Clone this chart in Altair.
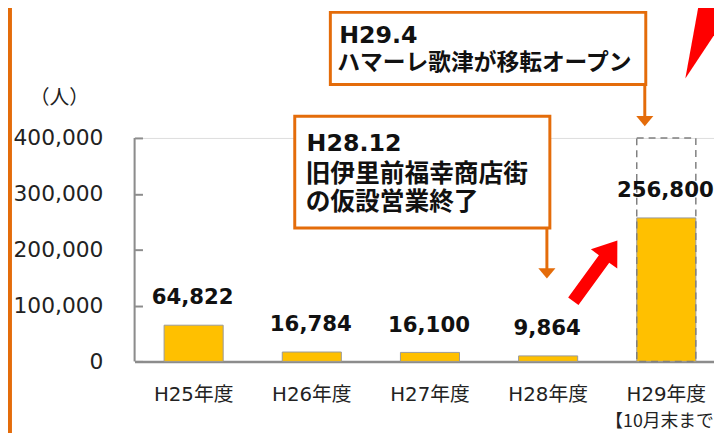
import altair as alt
import pandas as pd

# ---- data ----
categories = ["H25年度", "H26年度", "H27年度", "H28年度", "H29年度"]
visitors = [64822, 16784, 16100, 9864, 256800]
label_texts = ["64,822", "16,784", "16,100", "9,864", "256,800"]
outline_cats = ["H29年度"]
outline_values = [400000]
y_ticks = [0, 100000, 200000, 300000, 400000]

df = pd.DataFrame({"cat": categories, "v": visitors, "lab": label_texts})
df_out = pd.DataFrame({"cat": outline_cats, "v": outline_values})

ORANGE = "#E46C0A"
LAT = "DejaVu Sans"
MIX = "DejaVu Sans, Noto Sans CJK JP"
JP = "Noto Sans CJK JP"
GRAY = "#8c8c8c"

xscale = alt.Scale(domain=categories, range=[0, 597.5], paddingInner=0.5, paddingOuter=0.25)
yscale = alt.Scale(domain=[0, 400000], nice=False)

x_axis = alt.Axis(title=None, labelAngle=0, labelFont=MIX, labelFontSize=20,
                  labelColor="#222222", labelPadding=24, ticks=False,
                  domainColor=GRAY, domainWidth=2.5)
y_axis = alt.Axis(title=None, values=y_ticks, format=",d",
                  labelExpr="format(datum.value, ',d')",
                  labelFont=LAT, labelFontSize=22, labelColor="#222222",
                  labelPadding=32, offset=-8, ticks=True, tickSize=8, tickWidth=2,
                  tickColor=GRAY, grid=False, domain=False)

def X():
    return alt.X("cat:N", scale=xscale, sort=categories, axis=x_axis)

def Y():
    return alt.Y("v:Q", scale=yscale, axis=y_axis)

bars = alt.Chart(df).mark_bar(color="#FFC000", stroke="#9a9a9a", strokeWidth=1).encode(x=X(), y=Y())

outline = alt.Chart(df_out).mark_bar(fillOpacity=0, stroke="#808080", strokeWidth=1.5,
                                     strokeDash=[7, 5]).encode(x=X(), y=Y())

values = alt.Chart(df).mark_text(font=LAT, fontSize=21.5, fontWeight="bold", color="#111111",
                                 baseline="alphabetic", dy=-21, dx=-1).encode(
    x=X(), y=Y(), text="lab:N")

one = alt.Data(values=[{}])

# y-axis line
yline = alt.Chart(one).mark_rule(color=GRAY, strokeWidth=2).encode(
    x=alt.value(0), y=alt.value(0), y2=alt.value(226))

border = alt.Chart(one).mark_rule(color=ORANGE, strokeWidth=4).encode(
    x=alt.value(-126), y=alt.value(-140), y2=alt.value(300))

unit = alt.Chart(one).mark_text(text="（人）", font=JP, fontSize=20, color="#222222",
                                align="center", baseline="middle").encode(
    x=alt.value(-76), y=alt.value(-40))

# annotation box 1
box1 = alt.Chart(one).mark_rect(fill="white", stroke=ORANGE, strokeWidth=3).encode(
    x=alt.value(198), x2=alt.value(517), y=alt.value(-127), y2=alt.value(-54))
t1a = alt.Chart(one).mark_text(text="H29.4", font=MIX, fontSize=24, fontWeight="bold",
                               color="#111111", align="left", baseline="alphabetic").encode(
    x=alt.value(207), y=alt.value(-96))
t1b = alt.Chart(one).mark_text(text="ハマーレ歌津が移転オープン", font=MIX, fontSize=23,
                               fontWeight="bold", color="#111111", align="left",
                               baseline="alphabetic").encode(
    x=alt.value(205), y=alt.value(-69))
a1 = alt.Chart(one).mark_rule(color=ORANGE, strokeWidth=3).encode(
    x=alt.value(516), y=alt.value(-54), y2=alt.value(-20))
h1 = alt.Chart(one).mark_point(shape="M-1,-0.6L1,-0.6L0,0.6Z", filled=True, fill=ORANGE,
                               opacity=1, strokeWidth=0, size=300).encode(
    x=alt.value(516), y=alt.value(-17))

# annotation box 2
box2 = alt.Chart(one).mark_rect(fill="white", stroke=ORANGE, strokeWidth=3).encode(
    x=alt.value(162), x2=alt.value(420), y=alt.value(-22), y2=alt.value(91))
t2a = alt.Chart(one).mark_text(text="H28.12", font=MIX, fontSize=24, fontWeight="bold",
                               color="#111111", align="left", baseline="alphabetic").encode(
    x=alt.value(174), y=alt.value(13))
t2b = alt.Chart(one).mark_text(text="旧伊里前福幸商店街", font=MIX, fontSize=25, fontWeight="bold",
                               color="#111111", align="left", baseline="alphabetic").encode(
    x=alt.value(173), y=alt.value(45))
t2c = alt.Chart(one).mark_text(text="の仮設営業終了", font=MIX, fontSize=25, fontWeight="bold",
                               color="#111111", align="left", baseline="alphabetic").encode(
    x=alt.value(173), y=alt.value(73))
a2 = alt.Chart(one).mark_rule(color=ORANGE, strokeWidth=3).encode(
    x=alt.value(417), y=alt.value(91), y2=alt.value(134))
h2 = alt.Chart(one).mark_point(shape="M-1,-0.6L1,-0.6L0,0.6Z", filled=True, fill=ORANGE,
                               opacity=1, strokeWidth=0, size=300).encode(
    x=alt.value(417), y=alt.value(137))

# red arrows
ARROW = "M0,-1L0.435,-0.396L0.17,-0.396L0.17,1L-0.17,1L-0.17,-0.396L-0.435,-0.396Z"
red1 = alt.Chart(one).mark_point(shape=ARROW, filled=True, fill="#FF0000", opacity=1,
                                 strokeWidth=0, size=5746, angle=36).encode(
    x=alt.value(466), y=alt.value(134.5))
BIG = "M-0.46,0.98L-0.108,-0.96L0.48,-0.96L0.48,-0.44Z"
red2 = alt.Chart(one).mark_point(shape=BIG, filled=True, fill="#FF0000", opacity=1,
                                 strokeWidth=0, size=10000).encode(
    x=alt.value(580), y=alt.value(-109))

note = alt.Chart(one).mark_text(text="【10月末まで】", font=JP, fontSize=18, color="#222222",
                                align="left", baseline="alphabetic").encode(
    x=alt.value(476), y=alt.value(292))

chart = alt.layer(
    border, unit, bars, outline, values, yline,
    box1, t1a, t1b, a1, h1, box2, t2a, t2b, t2c, a2, h2, red1, red2, note
).properties(
    width=586, height=226,
    autosize=alt.AutoSizeParams(type="none"),
    padding={"left": 128, "top": 129, "right": 0, "bottom": 70},
).configure_view(stroke=None).configure(background="white")

chart.save("out.html", embed_options={"renderer": "svg", "actions": False})
